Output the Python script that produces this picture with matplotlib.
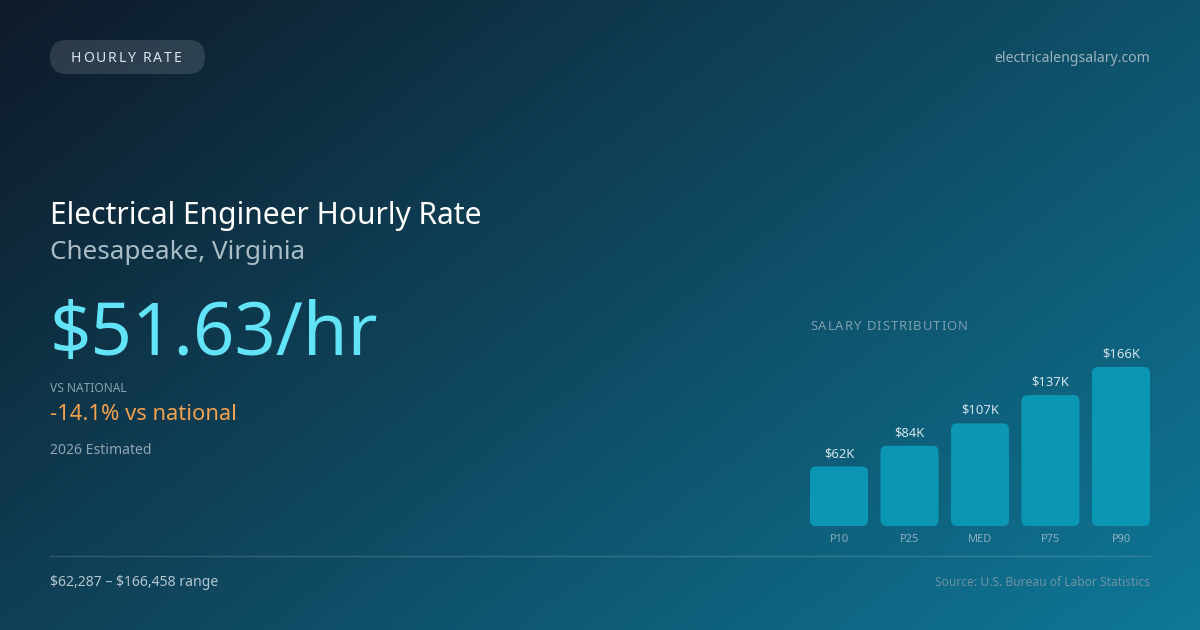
import numpy as np
import matplotlib.pyplot as plt
from matplotlib.patches import FancyBboxPatch
from matplotlib.colors import to_rgb

plt.rcParams['font.family'] = ['Noto Sans', 'DejaVu Sans']
plt.rcParams['text.parse_math'] = False

# chart data
percentiles = ['P10', 'P25', 'MED', 'P75', 'P90']
salaries = [62287, 84000, 107390, 137000, 166458]
value_labels = ['$62K', '$84K', '$107K', '$137K', '$166K']
hourly = '$51.63/hr'
vs_national = '-14.1% vs national'
title = 'Electrical Engineer Hourly Rate'
location = 'Chesapeake, Virginia'
range_text = '$62,287 \u2013 $166,458 range'

W, H = 1200, 630
fig = plt.figure(figsize=(W / 100, H / 100), dpi=100)

# background in pixel coords (y down)
bg = fig.add_axes([0, 0, 1, 1])
bg.set_xlim(0, W)
bg.set_ylim(H, 0)
bg.axis('off')
c0 = np.array(to_rgb('#0f1a29'))
c1 = np.array(to_rgb('#0e7898'))
xx, yy = np.meshgrid(np.linspace(0, 1, 300), np.linspace(0, 1, 160))
t = (xx * 0.6 + yy * 0.4)[..., None]
img = c0 * (1 - t) + c1 * t
bg.imshow(img, extent=(0, W, H, 0), aspect='auto', zorder=0)


def px(p):
    return p * 0.72


def spaced_text(ax, x, y, s, spacing, **kw):
    # draw char by char to get letter spacing
    r = fig.canvas.get_renderer()
    for ch in s:
        tx = ax.text(x, y, ch, **kw)
        w = tx.get_window_extent(renderer=r).width
        if ch == ' ':
            w = tx.get_fontsize() * 0.26 / 0.72
        x += w + spacing


# pill
pill = FancyBboxPatch((50, 40), 155, 34, boxstyle='round,pad=0,rounding_size=17',
                      fc=(1, 1, 1, 0.13), ec='none', zorder=1)
bg.add_patch(pill)
spaced_text(bg, 71, 58, 'HOURLY RATE', 1.8, fontsize=px(14), color='#dbe6ec', va='center', zorder=2)
bg.text(1150, 58, 'electricalengsalary.com', fontsize=px(14), color='#9db3c0', ha='right', va='center')

bg.text(50, 224, title, fontsize=px(30), color='white', va='baseline')
bg.text(50, 259, location, fontsize=px(26), color='#a9bdc8', va='baseline')
bg.text(49, 355, hourly, fontsize=px(72.5), color='#62e3f7', va='baseline')
bg.text(50, 388, 'VS NATIONAL', fontsize=px(12), color='#8aa1ae', va='center')
bg.text(50, 415, vs_national, fontsize=px(22), color='#f2a04e', va='center')
bg.text(50, 450, '2026 Estimated', fontsize=px(14), color='#8ea4b1', va='center')

bg.plot([50, 1150], [556, 556], color=(1, 1, 1, 0.15), lw=1)
bg.text(50, 582, range_text, fontsize=px(14), color='#b5c6cf', va='center')
bg.text(1150, 582, 'Source: U.S. Bureau of Labor Statistics', fontsize=px(12.05), color='#6f93a5',
        ha='right', va='center')
spaced_text(bg, 810, 326, 'SALARY DISTRIBUTION', 1.0, fontsize=px(13), color='#7e9fb0', va='center')

# bar chart axes: x 810..1150, bottom y=526, top y=367 for the max
left, right, bottom, top = 810, 1150, 526, 367
ax = fig.add_axes([left / W, 1 - bottom / H, (right - left) / W, (bottom - top) / H])
ax.axis('off')
bw = 0.823
xs = np.arange(len(percentiles))
ax.set_xlim(-bw / 2, xs[-1] + bw / 2)
ax.set_ylim(0, max(salaries))
ax.patch.set_alpha(0)

bars = ax.bar(xs, salaries, width=bw, color='#0b97b4')
ppx = (right - left) / (xs[-1] + bw)        # pixels per x unit
ppy = (bottom - top) / max(salaries)        # pixels per y unit
rad = 6
for b in bars:
    x0, y0 = b.get_x(), b.get_y()
    w, h = b.get_width(), b.get_height()
    b.remove()
    rp = FancyBboxPatch((x0, y0), w, h,
                        boxstyle='round,pad=0,rounding_size=%f' % (rad / ppx),
                        mutation_aspect=(rad / ppy) / (rad / ppx),
                        fc='#0b97b4', ec='none', clip_on=False)
    ax.add_patch(rp)

for x, v, lab in zip(xs, salaries, value_labels):
    ax.text(x, v + 13 / ppy, lab, ha='center', va='center', fontsize=px(13),
            color='#d3e2ea', clip_on=False)
    ax.text(x, -13 / ppy, percentiles[x], ha='center', va='center', fontsize=px(11),
            color='#8eb0c1', clip_on=False)

fig.savefig('out.png', dpi=100)
